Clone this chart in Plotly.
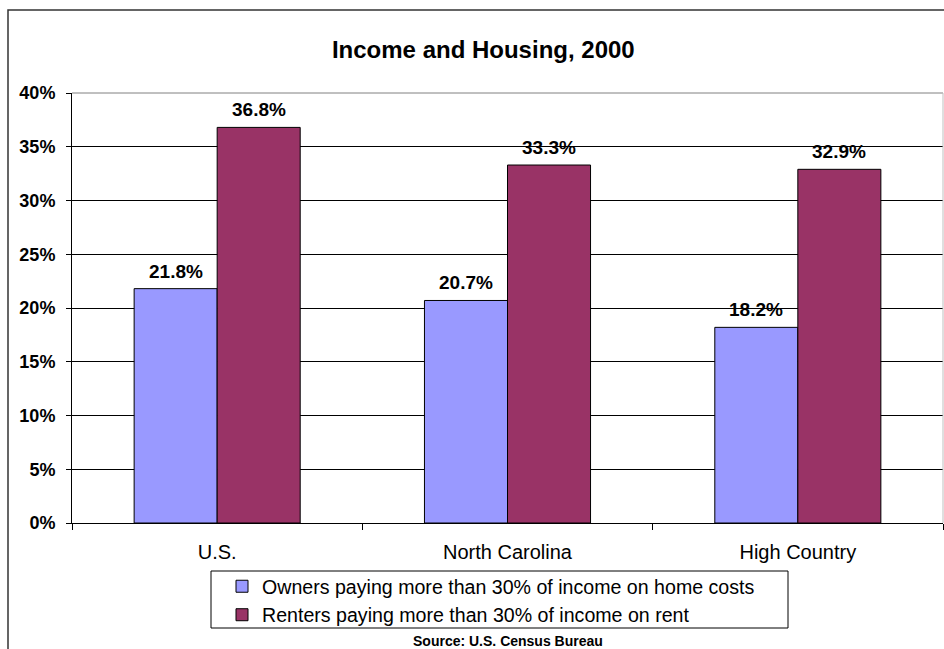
import plotly.graph_objects as go

# Data
regions = ["U.S.", "North Carolina", "High Country"]
owners_pct = [21.8, 20.7, 18.2]
renters_pct = [36.8, 33.3, 32.9]
series_names = [
    "Owners paying more than 30% of income on home costs",
    "Renters paying more than 30% of income on rent",
]
y_ticks = [0, 5, 10, 15, 20, 25, 30, 35, 40]
y_tick_labels = [f"{v}%" for v in y_ticks]

FONT = "Liberation Sans, Arial, sans-serif"
OWNER_COLOR = "#9999FF"
RENTER_COLOR = "#993366"

PLOT_L, PLOT_R, PLOT_T, PLOT_B = 72, 943, 93, 523
PW, PH = PLOT_R - PLOT_L, PLOT_B - PLOT_T


def px_x(px):
    return (px - PLOT_L) / PW


def px_y(py):
    return (PLOT_B - py) / PH


fig = go.Figure()
fig.add_trace(go.Bar(
    x=regions, y=owners_pct, name=series_names[0],
    marker=dict(color=OWNER_COLOR, line=dict(color="#000000", width=1)),
))
fig.add_trace(go.Bar(
    x=regions, y=renters_pct, name=series_names[1],
    marker=dict(color=RENTER_COLOR, line=dict(color="#000000", width=1)),
))

# Value labels above each bar
half_bar_px = 41.5
for vals, shift in ((owners_pct, -half_bar_px), (renters_pct, half_bar_px)):
    for cat, v in zip(regions, vals):
        fig.add_annotation(
            x=cat, y=v, xref="x", yref="y", text=f"{v:.1f}%",
            showarrow=False, yanchor="bottom", xshift=shift, yshift=5,
            font=dict(family=FONT, size=19, color="#000000", weight="bold"),
        )

# Source note
fig.add_annotation(
    x=0.5, y=px_y(641), xref="paper", yref="paper",
    text="Source: U.S. Census Bureau", showarrow=False,
    xanchor="center", yanchor="middle",
    font=dict(family=FONT, size=14, color="#000000", weight="bold"),
)

# Chart-area frame
fig.add_shape(type="rect", xref="paper", yref="paper",
              x0=px_x(8), x1=1.2, y0=-0.6, y1=px_y(10),
              line=dict(color="#333333", width=1.5), layer="below")
# Plot-area border on top and right
fig.add_shape(type="line", xref="paper", yref="paper",
              x0=0, x1=1, y0=1, y1=1, line=dict(color="#808080", width=1))
fig.add_shape(type="line", xref="paper", yref="paper",
              x0=1, x1=1, y0=0, y1=1, line=dict(color="#BFBFBF", width=1))
# Legend frame
fig.add_shape(type="rect", xref="paper", yref="paper",
              x0=px_x(211), x1=px_x(788), y0=px_y(628), y1=px_y(571),
              line=dict(color="#000000", width=1), fillcolor="rgba(0,0,0,0)")

fig.update_layout(
    width=944, height=649,
    margin=dict(l=PLOT_L, r=944 - PLOT_R, t=PLOT_T, b=649 - PLOT_B),
    paper_bgcolor="#FFFFFF", plot_bgcolor="#FFFFFF",
    barmode="group", bargap=0.428, bargroupgap=0,
    font=dict(family=FONT, color="#000000"),
    title=dict(
        text="<b>Income and Housing, 2000</b>",
        x=0.512, xref="container", xanchor="center",
        y=1 - 50 / 649, yref="container", yanchor="middle",
        font=dict(family=FONT, size=24, color="#000000"),
    ),
    showlegend=True,
    legend=dict(
        x=px_x(222), xanchor="left",
        y=px_y(567), yanchor="top",
        borderwidth=0, bgcolor="rgba(0,0,0,0)",
        font=dict(family=FONT, size=19.6, color="#000000"),
        tracegroupgap=0, itemwidth=30,
    ),
)

fig.update_xaxes(
    type="category", showgrid=False, showline=True,
    linecolor="#000000", linewidth=1,
    ticks="outside", tickson="boundaries", ticklen=6, tickcolor="#000000",
    tickfont=dict(family=FONT, size=20, color="#000000"),
    ticklabelstandoff=11,
)
fig.update_yaxes(
    range=[0, 40], tickvals=y_ticks, ticktext=y_tick_labels,
    showgrid=True, gridcolor="#000000", gridwidth=1,
    showline=True, linecolor="#000000", linewidth=1,
    ticks="outside", ticklen=5, tickcolor="#000000",
    tickfont=dict(family=FONT, size=18, color="#000000", weight="bold"),
    ticklabelstandoff=7, zeroline=False,
)

fig.write_html("out.html")
